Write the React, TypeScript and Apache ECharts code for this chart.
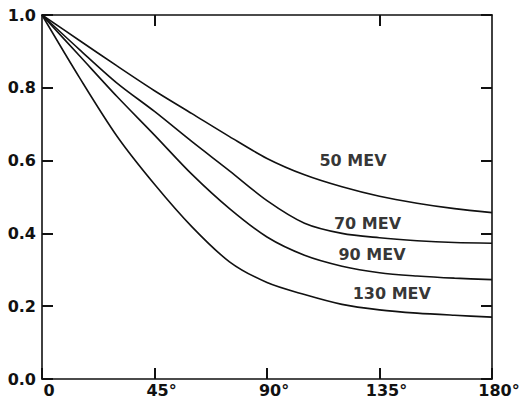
import React, { useEffect, useRef } from "react";
import * as echarts from "echarts";

const angles = [0, 15, 30, 45, 60, 75, 90, 105, 120, 135, 150, 165, 180];
const mev50 = [1.0, 0.93, 0.86, 0.792, 0.729, 0.666, 0.606, 0.561, 0.528, 0.502, 0.483, 0.468, 0.457];
const mev70 = [1.0, 0.905, 0.813, 0.735, 0.652, 0.572, 0.49, 0.428, 0.4, 0.388, 0.38, 0.375, 0.373];
const mev90 = [1.0, 0.888, 0.776, 0.67, 0.562, 0.468, 0.39, 0.34, 0.31, 0.292, 0.283, 0.277, 0.273];
const mev130 = [1.0, 0.828, 0.667, 0.535, 0.418, 0.322, 0.265, 0.232, 0.205, 0.19, 0.181, 0.175, 0.17];

const curveNames = ["50 MEV", "70 MEV", "90 MEV", "130 MEV"];
const labelAngles = [124.4, 130.2, 132, 139.9];
const labelValues = [0.601, 0.427, 0.342, 0.235];

const topTickValues = [45, 135];

export default function App() {
  const ref = useRef<HTMLDivElement>(null);
  useEffect(() => {
    if (!ref.current) return;
    const chart = echarts.init(ref.current, null, { renderer: "svg" });
    const curves = [mev50, mev70, mev90, mev130];
    const font = "DejaVu Sans";
    const mkLine = () => ({ show: true, onZero: false, lineStyle: { color: "#111", width: 1.6 } });
    const mkTick = () => ({ show: true, inside: true, length: 11, lineStyle: { color: "#111", width: 2 } });
    const series: any[] = curves.map((c, k) => ({
      type: "line",
      name: curveNames[k],
      data: angles.map((a, i) => [a, c[i]]),
      smooth: 0.3,
      showSymbol: false,
      lineStyle: { color: "#111", width: 1.6 },
      xAxisIndex: 0,
      yAxisIndex: 0,
    }));
    series.push({
      type: "scatter",
      symbolSize: 0,
      xAxisIndex: 0,
      yAxisIndex: 0,
      data: curveNames.map((n, k) => ({ value: [labelAngles[k], labelValues[k]], name: n })),
      label: {
        show: true,
        position: "inside",
        formatter: (p: any) => p.name,
        color: "#000",
        fontFamily: font,
        fontWeight: "bold",
        fontSize: 16,
      },
    });
    chart.setOption({
      animation: false,
      backgroundColor: "#fff",
      grid: { left: 42, right: 31, top: 15, bottom: 18 },
      xAxis: [
        {
          type: "value",
          min: 0,
          max: 180,
          interval: 45,
          position: "bottom",
          axisLine: mkLine(),
          axisTick: mkTick(),
          splitLine: { show: false },
          axisLabel: {
            margin: 3,
            padding: [0, 0, 0, 14],
            color: "#111",
            fontFamily: font,
            fontWeight: "bold",
            fontSize: 16,
            formatter: (v: number) => (v === 0 ? "0" : v + "°"),
          },
        },
        {
          type: "value",
          min: 0,
          max: 180,
          interval: 45,
          position: "top",
          axisLine: mkLine(),
          axisTick: { ...mkTick(), customValues: topTickValues },
          axisLabel: { show: false },
          splitLine: { show: false },
        },
      ],
      yAxis: [
        {
          type: "value",
          min: 0,
          max: 1,
          interval: 0.2,
          position: "left",
          axisLine: mkLine(),
          axisTick: mkTick(),
          splitLine: { show: false },
          axisLabel: {
            margin: 6,
            color: "#111",
            fontFamily: font,
            fontWeight: "bold",
            fontSize: 16,
            formatter: (v: number) => v.toFixed(1),
          },
        },
        {
          type: "value",
          min: 0,
          max: 1,
          interval: 0.2,
          position: "right",
          axisLine: mkLine(),
          axisTick: mkTick(),
          axisLabel: { show: false },
          splitLine: { show: false },
        },
      ],
      series,
    });
    return () => chart.dispose();
  }, []);
  return (
    <div
      ref={ref}
      style={{ position: "absolute", left: 0, top: 0, width: 523, height: 398 }}
    />
  );
}
